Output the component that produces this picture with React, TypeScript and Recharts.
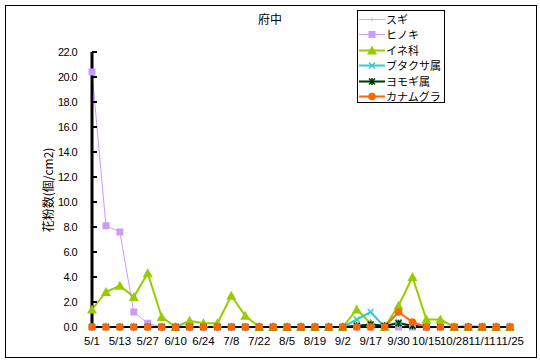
import React from 'react';
import { LineChart, Line, XAxis, YAxis } from 'recharts';

const dates = ['5/1','5/7','5/13','5/20','5/27','6/3','6/10','6/17','6/24','7/1','7/8','7/15','7/22','7/29','8/5','8/12','8/19','8/26','9/2','9/9','9/17','9/24','9/30','10/7','10/15','10/21','10/28','11/4','11/11','11/18','11/25'];
const sugi =   [0,0,0,0,0.1,0,0,0,0,0,0,0,0,0,0,0,0,0,0,0,0,0,0,0,0,0,0,0.2,0,0,0];
const hinoki = [20.4,8.1,7.6,1.2,0.3,0,0,0,0,0,0,0,0,0,0,0,0,0,0,0,0,0,0,0,0,0,0,0,0,0,0];
const ine =    [1.4,2.8,3.3,2.4,4.3,0.8,0,0.5,0.3,0.3,2.5,0.9,0,0,0,0,0,0,0,1.4,0.3,0,1.7,4.0,0.6,0.6,0,0,0,0,0];
const buta =   [0,0,0,0,0,0,0,0,0,0,0,0,0,0,0,0,0,0,0,0.6,1.2,0,0.4,0,0,0,0,0,0,0,0];
const yomogi = [0,0,0,0,0,0,0,0,0,0,0,0,0,0,0,0,0,0,0,0.1,0.2,0.1,0.3,0.1,0,0,0,0,0,0,0];
const kana =   [0,0,0,0,0,0,0,0,0,0,0,0,0,0,0,0,0,0,0,0,0,0,1.2,0.4,0,0,0,0,0,0,0];
const yTicks = [0,2,4,6,8,10,12,14,16,18,20,22];

const data = dates.map((d, i) => ({
  date: d, sugi: sugi[i], hinoki: hinoki[i], ine: ine[i], buta: buta[i], yomogi: yomogi[i], kana: kana[i],
}));

type Shape = 'plus' | 'square' | 'tri' | 'x' | 'star' | 'circle';

function marker(shape: Shape, color: string, cx: number, cy: number, key?: any) {
  switch (shape) {
    case 'plus':
      return <g key={key}><path d={`M${cx-2},${cy}H${cx+2}M${cx},${cy-2}V${cx+2 - cx + cy}`} stroke={color} strokeWidth={1} /></g>;
    case 'square':
      return <rect key={key} x={cx-3.5} y={cy-3.5} width={7} height={7} fill={color} />;
    case 'tri':
      return <path key={key} d={`M${cx},${cy-5}L${cx+5},${cy+4}L${cx-5},${cy+4}Z`} fill={color} />;
    case 'x':
      return <path key={key} d={`M${cx-3},${cy-3}L${cx+3},${cy+3}M${cx+3},${cy-3}L${cx-3},${cy+3}`} stroke={color} strokeWidth={1.5} fill="none" />;
    case 'star':
      return <path key={key} d={`M${cx-3},${cy-3}L${cx+3},${cy+3}M${cx+3},${cy-3}L${cx-3},${cy+3}M${cx},${cy-3.5}V${cy+3.5}`} stroke={color} strokeWidth={1.5} fill="none" />;
    case 'circle':
    default:
      return <circle key={key} cx={cx} cy={cy} r={3.8} fill={color} />;
  }
}

const series: { key: string; name: string; color: string; width: number; shape: Shape }[] = [
  { key: 'sugi', name: 'スギ', color: '#FF99CC', width: 1, shape: 'plus' },
  { key: 'hinoki', name: 'ヒノキ', color: '#CC99FF', width: 1, shape: 'square' },
  { key: 'ine', name: 'イネ科', color: '#99CC00', width: 2, shape: 'tri' },
  { key: 'buta', name: 'ブタクサ属', color: '#33CCCC', width: 2, shape: 'x' },
  { key: 'yomogi', name: 'ヨモギ属', color: '#003300', width: 2, shape: 'star' },
  { key: 'kana', name: 'カナムグラ', color: '#FF6600', width: 2, shape: 'circle' },
];

const jp = '"Noto Sans CJK JP", "Noto Sans", sans-serif';

export default function App() {
  return (
    <div style={{ position: 'relative', width: 540, height: 364, background: '#fff' }}>
      <style>{'body{margin:0}'}</style>
      <div style={{ position: 'absolute', left: 5, top: 5, width: 530, height: 351, border: '1px solid #000' }} />
      <div style={{ position: 'absolute', left: 0, top: 0 }}>
        <LineChart width={540} height={364} data={data} margin={{ top: 52, right: 30, left: 32, bottom: 7 }}>
          <XAxis
            dataKey="date"
            interval={1}
            tickLine={false}
            axisLine={{ stroke: '#000', strokeWidth: 2 }}
            tickMargin={4}
            height={30}
            tick={{ fill: '#000', fontSize: 11.5, fontFamily: 'Liberation Sans, Arial, sans-serif' }}
          />
          <YAxis
            domain={[0, 22]}
            ticks={yTicks}
            interval={0}
            width={60}
            tickFormatter={(v: number) => v.toFixed(1)}
            axisLine={{ stroke: '#000', strokeWidth: 3 }}
            tickLine={{ stroke: '#000', strokeWidth: 2 }}
            tickSize={-5}
            tickMargin={20}
            tick={{ fill: '#000', fontSize: 11, letterSpacing: -0.6, fontFamily: 'Liberation Sans, Arial, sans-serif' }}
          />
          {series.map((s) => (
            <Line
              key={s.key}
              dataKey={s.key}
              name={s.name}
              stroke={s.color}
              strokeWidth={s.width}
              isAnimationActive={false}
              dot={(p: any) => marker(s.shape, s.color, p.cx, p.cy, `${s.key}-${p.index}`)}
              activeDot={false}
            />
          ))}
        </LineChart>
      </div>
      <div style={{ position: 'absolute', left: 240, top: 11, width: 60, textAlign: 'center', fontSize: 12, fontFamily: jp, lineHeight: '16px' }}>府中</div>
      <div style={{ position: 'absolute', left: 48 - 60, top: 190 - 8, width: 120, height: 16, lineHeight: '16px', textAlign: 'center', fontSize: 12, fontFamily: jp, transform: 'rotate(-90deg)', transformOrigin: '60px 8px', whiteSpace: 'nowrap' }}>花粉数(個/cm2)</div>
      <div style={{ position: 'absolute', left: 357, top: 10, width: 86, height: 91, border: '1px solid #000', background: '#fff' }}>
        {series.map((s, i) => (
          <div key={s.key} style={{ position: 'absolute', left: 0, top: 1 + i * 15.4, height: 15, width: 86 }}>
            <svg width={28} height={15} style={{ position: 'absolute', left: 0, top: 0 }}>
              <line x1={1} x2={27} y1={7.5} y2={7.5} stroke={s.color} strokeWidth={s.width} />
              {marker(s.shape, s.color, 14, 7.5)}
            </svg>
            <span style={{ position: 'absolute', left: 28, top: 0, fontSize: 11, lineHeight: '15px', fontFamily: jp, whiteSpace: 'nowrap' }}>{s.name}</span>
          </div>
        ))}
      </div>
    </div>
  );
}
